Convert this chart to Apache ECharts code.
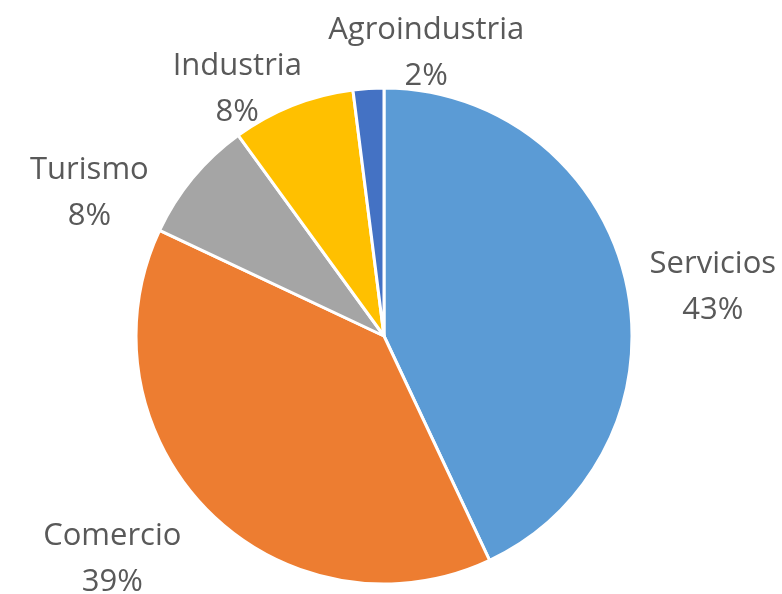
<!DOCTYPE html>
<html lang="es">
<head>
    <meta charset="utf-8">
    <title>Sectores</title>
    <script src="https://cdn.jsdelivr.net/npm/echarts@6/dist/echarts.min.js"></script>
    <style>
        html, body { margin: 0; padding: 0; background: #fff; }
        #chart { width: 782px; height: 594px; }
    </style>
</head>
<body>
    <div id="chart"></div>
    <script type="text/javascript">
        // datos
        var categories = ['Servicios', 'Comercio', 'Turismo', 'Industria', 'Agroindustria'];
        var values = [43, 39, 8, 8, 2];
        var colors = ['#5B9BD5', '#ED7D31', '#A5A5A5', '#FFC000', '#4472C4'];

        // geometria del pastel
        var CX = 384, CY = 336, R = 248;
        // ajuste fino de cada etiqueta respecto al punto radial (R + 50)
        var labelNudge = [[38, 16], [-61, 12], [-65, 47], [-37, 30], [61, 15]];

        var total = values.reduce(function (a, b) { return a + b; }, 0);
        function midAngle(idx) {
            var before = 0;
            for (var i = 0; i < idx; i++) before += values[i];
            return (before + values[idx] / 2) / total * Math.PI * 2;
        }

        var chart = echarts.init(document.getElementById('chart'));
        var option = {
            animation: false,
            backgroundColor: '#fff',
            color: colors,
            series: [{
                type: 'pie',
                center: [CX, CY],
                radius: R,
                startAngle: 90,
                clockwise: true,
                avoidLabelOverlap: false,
                emphasis: { disabled: true },
                itemStyle: {
                    borderColor: '#fff',
                    borderWidth: 3
                },
                label: {
                    show: true,
                    position: 'outside',
                    formatter: '{b}\n{c}%',
                    color: '#595959',
                    fontFamily: 'Open Sans',
                    fontSize: 31,
                    lineHeight: 46,
                    align: 'center'
                },
                labelLine: { show: false },
                labelLayout: function (params) {
                    var a = midAngle(params.dataIndex);
                    var n = labelNudge[params.dataIndex];
                    return {
                        x: CX + Math.sin(a) * (R + 50) + n[0],
                        y: CY - Math.cos(a) * (R + 50) + n[1],
                        align: 'center',
                        verticalAlign: 'middle'
                    };
                },
                data: categories.map(function (name, i) {
                    return { name: name, value: values[i] };
                })
            }]
        };
        chart.setOption(option);
    </script>
</body>
</html>
